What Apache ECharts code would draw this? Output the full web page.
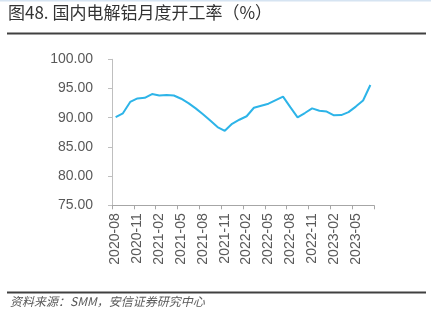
<!DOCTYPE html>
<html>
<head>
<meta charset="utf-8">
<script src="https://cdn.jsdelivr.net/npm/echarts@6/dist/echarts.min.js"></script>
<style>
html,body{margin:0;padding:0;background:#fff;}
#c{width:431px;height:322px;}
</style>
</head>
<body>
<div id="c"></div>
<script>
const titleText = '图48. 国内电解铝月度开工率（%）';
const sourceText = '资料来源：SMM，安信证券研究中心';
const months = [
  '2020-08','2020-09','2020-10','2020-11','2020-12',
  '2021-01','2021-02','2021-03','2021-04','2021-05','2021-06','2021-07','2021-08','2021-09','2021-10','2021-11','2021-12',
  '2022-01','2022-02','2022-03','2022-04','2022-05','2022-06','2022-07','2022-08','2022-09','2022-10','2022-11','2022-12',
  '2023-01','2023-02','2023-03','2023-04','2023-05','2023-06','2023-07'
];
const utilization = [
  90.1, 90.75, 92.7, 93.3, 93.4,
  94.05, 93.8, 93.9, 93.8, 93.25, 92.5, 91.6, 90.6, 89.5, 88.4, 87.75, 88.95,
  89.65, 90.25, 91.7, 92.05, 92.4, 93.0, 93.6, 91.8, 90.05, 90.8, 91.6, 91.2,
  91.05, 90.4, 90.45, 90.95, 91.9, 92.95, 95.6
];
const yMin = 75, yMax = 100, yStep = 5;

const chart = echarts.init(document.getElementById('c'), null, {renderer: 'canvas'});
chart.setOption({
  animation: false,
  backgroundColor: '#ffffff',
  grid: {left: 112, right: 57, top: 59.3, bottom: 116.7, containLabel: false},
  xAxis: {
    type: 'category',
    data: months,
    boundaryGap: true,
    axisLine: {lineStyle: {color: '#a6a6a6', width: 1}},
    axisTick: {show: true, interval: 2, length: 4, inside: false, lineStyle: {color: '#a6a6a6'}},
    axisLabel: {interval: 2, rotate: 90, margin: 8, color: '#595959', fontSize: 14,
      fontFamily: '"Liberation Sans", Arial, sans-serif'},
    splitLine: {show: false}
  },
  yAxis: {
    type: 'value',
    min: yMin, max: yMax, interval: yStep,
    axisLine: {show: true, lineStyle: {color: '#bfbfbf', width: 1}},
    axisTick: {show: true, length: 4, lineStyle: {color: '#bfbfbf'}},
    axisLabel: {margin: 19, color: '#595959', fontSize: 14,
      fontFamily: '"Liberation Sans", Arial, sans-serif',
      formatter: v => v.toFixed(2)},
    splitLine: {show: false}
  },
  series: [{
    type: 'line',
    data: utilization,
    showSymbol: false,
    symbol: 'none',
    lineStyle: {color: '#2DB4E8', width: 2},
    clip: false
  }],
  graphic: [
    {type: 'rect', left: 0, top: 0, shape: {width: 431, height: 1.5}, style: {fill: '#d6e4f2'}},
    {type: 'text', left: 8, top: 4, style: {text: titleText, fill: '#333333', font: '17px "Noto Sans CJK SC", sans-serif'}},
    {type: 'rect', left: 7, top: 32.5, shape: {width: 419, height: 2}, style: {fill: '#404040'}},
    {type: 'rect', left: 7, top: 291.5, shape: {width: 419, height: 2}, style: {fill: '#404040'}},
    {type: 'text', left: 10, top: 295, style: {text: sourceText, fill: '#595959', font: 'italic 12px "Noto Sans CJK SC", sans-serif'}}
  ]
});
</script>
</body>
</html>
